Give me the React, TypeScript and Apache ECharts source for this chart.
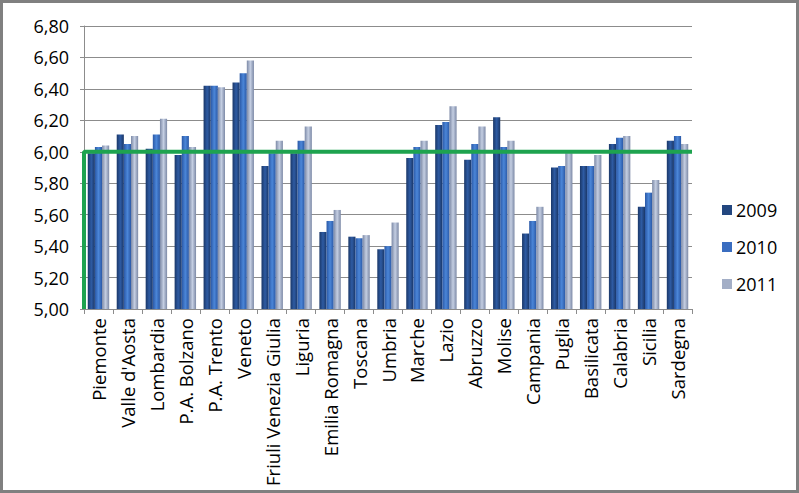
import React, { useEffect, useRef } from "react";
import * as echarts from "echarts";

const categories = [
  "Piemonte", "Valle d'Aosta", "Lombardia", "P.A. Bolzano", "P.A. Trento", "Veneto",
  "Friuli Venezia Giulia", "Liguria", "Emilia Romagna", "Toscana", "Umbria", "Marche",
  "Lazio", "Abruzzo", "Molise", "Campania", "Puglia", "Basilicata", "Calabria", "Sicilia", "Sardegna",
];
const values2009 = [5.99, 6.11, 6.02, 5.98, 6.42, 6.44, 5.91, 5.99, 5.49, 5.46, 5.38, 5.96, 6.17, 5.95, 6.22, 5.48, 5.90, 5.91, 6.05, 5.65, 6.07];
const values2010 = [6.03, 6.05, 6.11, 6.10, 6.42, 6.50, 5.99, 6.07, 5.56, 5.45, 5.40, 6.03, 6.19, 6.05, 6.03, 5.56, 5.91, 5.91, 6.09, 5.74, 6.10];
const values2011 = [6.04, 6.10, 6.21, 6.03, 6.41, 6.58, 6.07, 6.16, 5.63, 5.47, 5.55, 6.07, 6.29, 6.16, 6.07, 5.65, 5.99, 5.98, 6.10, 5.82, 6.05];
const seriesNames = ["2009", "2010", "2011"];
const yMin = 5;
const yMax = 6.8;
const yInterval = 0.2;
const thresholdLine = [[0, 5], [0, 6], [1, 6]];

const grad = (edge: string, mid: string) =>
  new echarts.graphic.LinearGradient(0, 0, 1, 0, [
    { offset: 0, color: edge },
    { offset: 0.5, color: mid },
    { offset: 1, color: edge },
  ]);

export default function App() {
  const ref = useRef<HTMLDivElement>(null);
  useEffect(() => {
    if (!ref.current) return;
    const chart = echarts.init(ref.current, undefined, { renderer: "svg" });
    const font = "'Open Sans', 'Liberation Sans', sans-serif";
    const colors = [
      grad("#1a3768", "#2e5ba3"),
      grad("#2a58a6", "#4b86d8"),
      grad("#7c89a6", "#c4cee2"),
    ];
    const legendColors = ["#23477f", "#3a6dc0", "#a3aec6"];
    const data = [values2009, values2010, values2011];
    chart.setOption({
      animation: false,
      backgroundColor: "#ffffff",
      grid: { left: 84, right: 107, top: 26, bottom: 184, containLabel: false },
      legend: {
        orient: "vertical",
        left: 717,
        top: 194,
        itemWidth: 10,
        itemHeight: 10,
        itemGap: 15,
        icon: "rect",
        textStyle: { fontFamily: font, fontSize: 18, color: "#000", lineHeight: 22, padding: [0, 0, 0, -1] },
        data: seriesNames.map((n, i) => ({ name: n, itemStyle: { color: legendColors[i] } })),
      },
      xAxis: [
        {
          type: "category",
          data: categories,
          axisLine: { lineStyle: { color: "#8c8c8c", width: 1 } },
          axisTick: { show: true, length: 5, lineStyle: { color: "#8c8c8c" } },
          axisLabel: {
            interval: 0,
            rotate: 90,
            margin: 9,
            fontFamily: font,
            fontSize: 18.5,
            color: "#000",
          },
        },
        { type: "value", min: 0, max: 1, show: false },
      ],
      yAxis: {
        type: "value",
        min: yMin,
        max: yMax,
        interval: yInterval,
        axisLine: { show: true, lineStyle: { color: "#8c8c8c" } },
        axisTick: { show: true, length: 4, lineStyle: { color: "#8c8c8c" } },
        splitLine: { lineStyle: { color: "#8c8c8c", width: 1 } },
        axisLabel: {
          margin: 15,
          fontFamily: font,
          fontSize: 18,
          color: "#000",
          formatter: (v: number) => v.toFixed(2).replace(".", ","),
        },
      },
      series: [
        ...seriesNames.map((name, i) => ({
          name,
          type: "bar",
          data: data[i],
          barGap: "0%",
          barCategoryGap: "26%",
          itemStyle: { color: colors[i] },
        })),
        {
          type: "line",
          xAxisIndex: 1,
          data: thresholdLine,
          symbol: "none",
          z: 10,
          lineStyle: { color: "#1ea34f", width: 4 },
          silent: true,
        },
      ],
    });
    return () => chart.dispose();
  }, []);
  return (
    <div style={{ position: "fixed", left: 0, top: 0, width: 799, height: 493 }}>
      <div ref={ref} style={{ position: "absolute", left: 0, top: 0, width: 799, height: 493 }} />
      <div
        style={{
          position: "absolute",
          left: 0,
          top: 0,
          width: 799,
          height: 493,
          boxSizing: "border-box",
          border: "3px solid #808080",
          pointerEvents: "none",
        }}
      />
    </div>
  );
}
